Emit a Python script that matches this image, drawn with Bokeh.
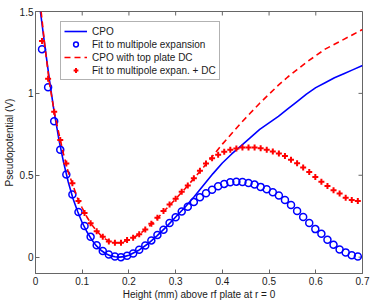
import math
from bokeh.plotting import figure
from bokeh.models import Range1d, FixedTicker, Legend, LegendItem
from bokeh.embed import file_html
from bokeh.resources import INLINE

# ---- data ----
x_fit = [0.014, 0.027, 0.040, 0.053, 0.066, 0.079, 0.092, 0.105, 0.118, 0.131,
         0.144, 0.157, 0.170, 0.183, 0.196, 0.209, 0.222, 0.235, 0.248, 0.261,
         0.274, 0.287, 0.300, 0.313, 0.326, 0.339, 0.352, 0.365, 0.378, 0.391,
         0.404, 0.417, 0.430, 0.443, 0.456, 0.469, 0.482, 0.495, 0.508, 0.521,
         0.534, 0.547, 0.560, 0.573, 0.586, 0.599, 0.612, 0.625, 0.638, 0.651,
         0.664, 0.677, 0.690]
fit_multipole = [1.27, 1.037, 0.83, 0.655, 0.504, 0.382, 0.276, 0.19, 0.124, 0.073,
                 0.037, 0.016, 0.004, 0.0, 0.008, 0.022, 0.045, 0.071, 0.102, 0.135,
                 0.167, 0.208, 0.243, 0.278, 0.308, 0.337, 0.365, 0.39, 0.412, 0.433,
                 0.447, 0.457, 0.461, 0.459, 0.453, 0.443, 0.429, 0.414, 0.396, 0.376,
                 0.349, 0.318, 0.282, 0.245, 0.208, 0.171, 0.143, 0.106, 0.076, 0.047,
                 0.029, 0.012, 0.004]
fit_multipole_dc = [1.32, 1.09, 0.888, 0.716, 0.571, 0.451, 0.343, 0.27, 0.207, 0.158,
                    0.124, 0.096, 0.088, 0.088, 0.104, 0.118, 0.139, 0.169, 0.204, 0.241,
                    0.282, 0.322, 0.357, 0.400, 0.437, 0.482, 0.527, 0.571, 0.604, 0.625,
                    0.643, 0.655, 0.663, 0.669, 0.669, 0.669, 0.665, 0.655, 0.645, 0.633,
                    0.618, 0.594, 0.573, 0.547, 0.520, 0.490, 0.461, 0.435, 0.408, 0.388,
                    0.363, 0.349, 0.343]

x_cpo = [0.0105, 0.02, 0.03, 0.04, 0.05, 0.06, 0.07, 0.08, 0.09, 0.10, 0.11, 0.12,
         0.13, 0.14, 0.15, 0.16, 0.17, 0.18, 0.19, 0.20, 0.22, 0.24, 0.26, 0.28,
         0.30, 0.32, 0.34, 0.36, 0.38, 0.40, 0.42, 0.44, 0.46, 0.48, 0.50, 0.52,
         0.54, 0.56, 0.58, 0.60, 0.62, 0.64, 0.66, 0.68, 0.70]
cpo = [1.5, 1.29, 1.08, 0.885, 0.72, 0.58, 0.46, 0.36, 0.28, 0.21, 0.155, 0.108,
       0.07, 0.042, 0.022, 0.009, 0.002, 0.0, 0.003, 0.012, 0.04, 0.08, 0.13, 0.185,
       0.245, 0.305, 0.37, 0.44, 0.51, 0.575, 0.63, 0.68, 0.73, 0.78, 0.82, 0.86,
       0.905, 0.95, 0.995, 1.035, 1.065, 1.095, 1.12, 1.145, 1.17]

x_cpo_dc = [0.012, 0.02, 0.03, 0.04, 0.05, 0.06, 0.07, 0.08, 0.09, 0.10, 0.11, 0.12,
            0.13, 0.14, 0.15, 0.16, 0.17, 0.18, 0.19, 0.20, 0.22, 0.24, 0.26, 0.28,
            0.30, 0.32, 0.34, 0.36, 0.38, 0.40, 0.42, 0.44, 0.46, 0.48, 0.50, 0.52,
            0.54, 0.56, 0.58, 0.60, 0.62, 0.64, 0.66, 0.68, 0.70]
cpo_dc = [1.5, 1.29, 1.06, 0.89, 0.755, 0.63, 0.52, 0.44, 0.36, 0.30, 0.245, 0.20,
          0.163, 0.133, 0.11, 0.095, 0.088, 0.088, 0.095, 0.106, 0.135, 0.18, 0.235, 0.295,
          0.355, 0.418, 0.483, 0.55, 0.62, 0.69, 0.755, 0.82, 0.88, 0.94, 0.995, 1.05,
          1.10, 1.145, 1.19, 1.23, 1.27, 1.30, 1.33, 1.36, 1.39]

x_ticks = [0, 0.1, 0.2, 0.3, 0.4, 0.5, 0.6, 0.7]
x_tick_labels = ["0", "0.1", "0.2", "0.3", "0.4", "0.5", "0.6", "0.7"]
y_ticks = [0, 0.5, 1, 1.5]
y_tick_labels = ["0", "0.5", "1", "1.5"]
x_min, x_max = 0.0, 0.7
y_min, y_max = -0.1, 1.5

FONT = "Liberation Sans"
TXT = "#1a1a1a"
AX = "#666666"

p = figure(width=372, height=302, output_backend="svg", toolbar_location=None,
           x_range=Range1d(x_min, x_max), y_range=Range1d(y_min, y_max),
           min_border_left=0, min_border_right=10, min_border_top=11, min_border_bottom=0)
p.background_fill_color = "white"
p.border_fill_color = "white"
p.outline_line_color = AX
p.outline_line_width = 1
p.xgrid.visible = False
p.ygrid.visible = False

def style_axis(ax, ticks, labels):
    ax.ticker = FixedTicker(ticks=ticks)
    ax.major_label_overrides = {t: l for t, l in zip(ticks, labels)}
    ax.major_tick_in = 4
    ax.major_tick_out = 0
    ax.minor_tick_line_color = None
    ax.major_tick_line_color = AX
    ax.axis_line_color = AX
    ax.major_label_text_font = FONT
    ax.major_label_text_font_size = "10px"
    ax.major_label_text_color = TXT
    ax.major_label_standoff = 3
    ax.axis_label_text_font = FONT
    ax.axis_label_text_font_size = "10px"
    ax.axis_label_text_font_style = "normal"
    ax.axis_label_text_color = TXT

style_axis(p.xaxis[0], x_ticks, x_tick_labels)
style_axis(p.yaxis[0], y_ticks, y_tick_labels)
p.xaxis[0].axis_label = "Height (mm) above rf plate at r = 0"
p.yaxis[0].axis_label = "Pseudopotential (V)"
p.xaxis[0].axis_label_standoff = 1
p.yaxis[0].axis_label_standoff = 2
p.yaxis[0].major_label_standoff = 2

# box ticks on the top and right edges (MATLAB "box on" style)
p.ray(x=x_ticks, y=[y_max] * len(x_ticks), length=4, length_units="screen",
      angle=-math.pi / 2, line_color=AX, line_width=1)
p.ray(x=[x_max] * len(y_ticks), y=y_ticks, length=4, length_units="screen",
      angle=math.pi, line_color=AX, line_width=1)

r1 = p.line(x_cpo, cpo, line_color="#0000ff", line_width=1.6)
r2 = p.scatter(x_fit, fit_multipole, marker="circle", size=7, fill_color=None,
               line_color="#0000ff", line_width=1.5)
r3 = p.line(x_cpo_dc, cpo_dc, line_color="#ff0000", line_width=1.6, line_dash="6 4")
r4 = p.scatter(x_fit, fit_multipole_dc, marker="cross", size=6,
               line_color="#ff0000", line_width=2)

legend = Legend(items=[
    LegendItem(label="CPO", renderers=[r1]),
    LegendItem(label="Fit to multipole expansion", renderers=[r2]),
    LegendItem(label="CPO with top plate DC", renderers=[r3]),
    LegendItem(label="Fit to multipole expan. + DC", renderers=[r4]),
], location=(25, 193))
legend.label_text_font = FONT
legend.label_text_font_size = "10px"
legend.label_text_color = TXT
legend.label_height = 12
legend.glyph_height = 12
legend.glyph_width = 23
legend.label_standoff = 5
legend.spacing = 1
legend.padding = 3
legend.margin = 0
legend.border_line_color = AX
legend.border_line_width = 1
legend.background_fill_alpha = 1
p.add_layout(legend)

open("out.html", "w").write(file_html(p, INLINE))
